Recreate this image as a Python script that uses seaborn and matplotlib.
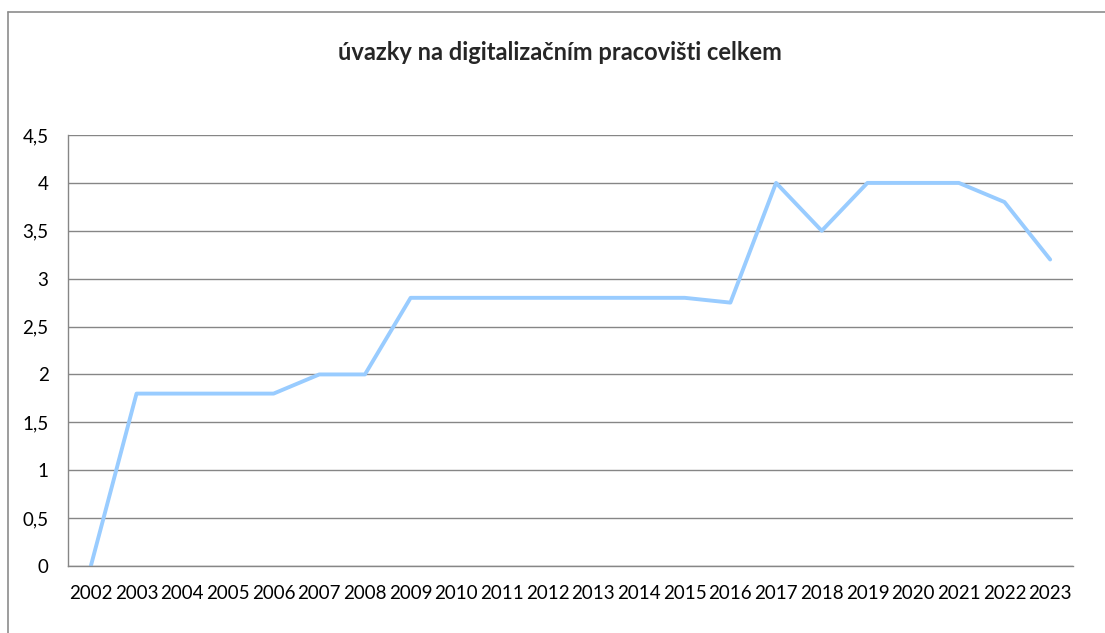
import numpy as np
import pandas as pd
import matplotlib
matplotlib.use('Agg')
import matplotlib.pyplot as plt
import seaborn as sns
from matplotlib.lines import Line2D
from matplotlib.ticker import FixedLocator, FuncFormatter

roky = [str(r) for r in range(2002, 2024)]
uvazky = [0, 1.8, 1.8, 1.8, 1.8, 2, 2, 2.8, 2.8, 2.8, 2.8, 2.8, 2.8, 2.8,
          2.75, 4, 3.5, 4, 4, 4, 3.8, 3.2]
y_ticks = [0, 0.5, 1, 1.5, 2, 2.5, 3, 3.5, 4, 4.5]
titulek = 'úvazky na digitalizačním pracovišti celkem'

df = pd.DataFrame({'rok': roky, 'uvazky': uvazky})

sns.set_style('white')
plt.rcParams['font.family'] = ['Lato', 'DejaVu Sans']

W, H = 1105, 633
fig = plt.figure(figsize=(W / 100, H / 100), dpi=100)
ax = fig.add_axes([68 / W, 1 - 566 / H, (1073 - 68) / W, (566 - 135) / H])

sns.lineplot(data=df, x='rok', y='uvazky', ax=ax, color='#99ccff',
             linewidth=2.8, sort=False)

n = len(roky)
ax.set_xlim(-0.5, n - 0.5)
ax.set_ylim(0, 4.5)
ax.set_yticks(y_ticks)
ax.yaxis.set_major_formatter(FuncFormatter(lambda v, p: f'{v:g}'.replace('.', ',')))
ax.set_xticks(range(n))
ax.set_xticklabels(roky)
ax.xaxis.set_minor_locator(FixedLocator([i - 0.5 for i in range(n + 1)]))
ax.tick_params(axis='x', which='major', length=0, pad=14, labelsize=13.5, colors='black')
ax.tick_params(axis='x', which='minor', length=6, width=1, color='#868686', direction='out')
ax.tick_params(axis='y', length=6, width=1, color='#868686', pad=8, labelsize=13.5,
               colors='black', direction='out')
ax.set_xlabel('')
ax.set_ylabel('')

ax.grid(axis='y', color='#868686', linewidth=1)
ax.set_axisbelow(True)
for s in ['top', 'right']:
    ax.spines[s].set_visible(False)
for s in ['left', 'bottom']:
    ax.spines[s].set_color('#868686')
    ax.spines[s].set_linewidth(1)

fig.text(560 / W, 1 - 52 / H, titulek, ha='center', va='center',
         fontsize=17, fontweight='bold')

# okraj grafu
fig.add_artist(Line2D([8 / W, 8 / W], [0, 1 - 12 / H], transform=fig.transFigure,
                      color='#8c8c8c', linewidth=1.2))
fig.add_artist(Line2D([8 / W, 1], [1 - 12 / H, 1 - 12 / H], transform=fig.transFigure,
                      color='#8c8c8c', linewidth=1.2))

fig.savefig('out.png', dpi=100)
